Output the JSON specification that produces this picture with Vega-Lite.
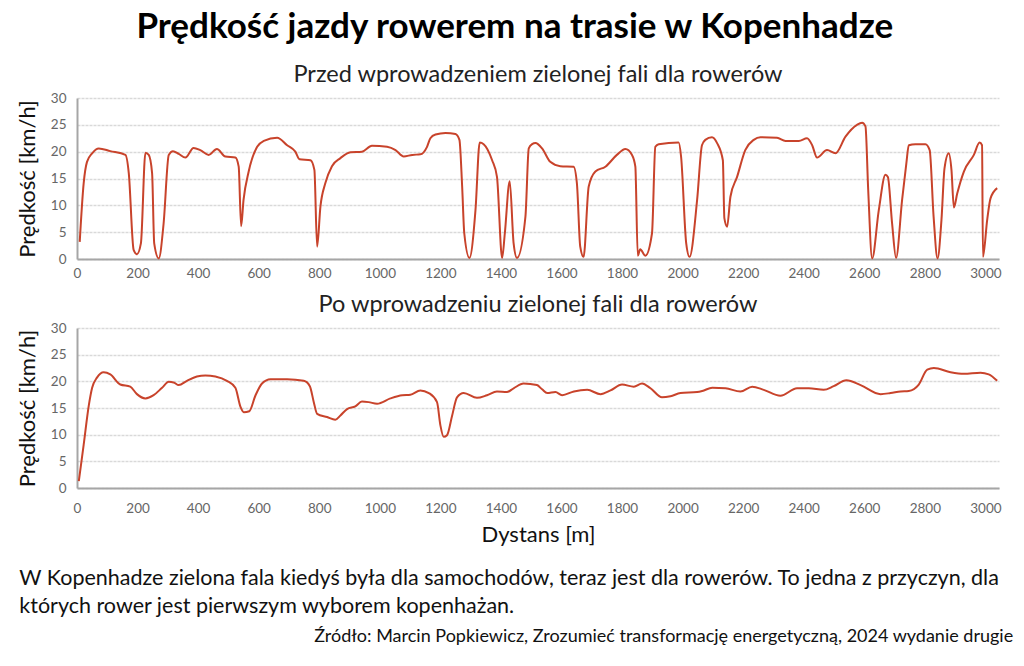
{
  "$schema": "https://vega.github.io/schema/vega-lite/v6.json",
  "background": "white",
  "padding": {"left": 16, "top": 9, "right": 18, "bottom": 8},
  "title": {"text": "Prędkość jazdy rowerem na trasie w Kopenhadze", "font": "Lato", "fontSize": 35, "fontWeight": "bold", "color": "#000000", "anchor": "middle", "offset": 18},
  "datasets": {
    "before": [
      {"d": 9, "v": 3.2}, {"d": 22, "v": 14.1}, {"d": 33, "v": 18.1}, {"d": 50, "v": 19.7}, {"d": 72, "v": 20.6}, {"d": 110, "v": 20.1}, {"d": 160, "v": 19.4}, {"d": 171, "v": 16}, {"d": 187, "v": 1.7}, {"d": 198, "v": 0.9}, {"d": 211, "v": 2.9}, {"d": 226, "v": 19.8}, {"d": 237, "v": 19.4}, {"d": 248, "v": 16}, {"d": 255, "v": 2.9}, {"d": 270, "v": 0.1}, {"d": 286, "v": 6.6}, {"d": 303, "v": 19.4}, {"d": 317, "v": 20.1}, {"d": 336, "v": 19.6}, {"d": 358, "v": 18.9}, {"d": 385, "v": 20.7}, {"d": 407, "v": 20.3}, {"d": 435, "v": 19.4}, {"d": 462, "v": 20.5}, {"d": 490, "v": 19.1}, {"d": 523, "v": 18.9}, {"d": 534, "v": 17.2}, {"d": 542, "v": 6.1}, {"d": 550, "v": 11}, {"d": 567, "v": 16.3}, {"d": 595, "v": 20.9}, {"d": 617, "v": 22}, {"d": 661, "v": 22.6}, {"d": 694, "v": 21.2}, {"d": 721, "v": 20}, {"d": 735, "v": 18.6}, {"d": 771, "v": 18.4}, {"d": 784, "v": 16.6}, {"d": 793, "v": 2.3}, {"d": 804, "v": 9.8}, {"d": 820, "v": 14.1}, {"d": 842, "v": 17.3}, {"d": 870, "v": 18.8}, {"d": 903, "v": 19.9}, {"d": 941, "v": 20}, {"d": 974, "v": 21.1}, {"d": 1024, "v": 20.9}, {"d": 1052, "v": 20.3}, {"d": 1079, "v": 19.1}, {"d": 1107, "v": 19.4}, {"d": 1134, "v": 19.5}, {"d": 1156, "v": 20.9}, {"d": 1167, "v": 22.5}, {"d": 1184, "v": 23.2}, {"d": 1217, "v": 23.5}, {"d": 1250, "v": 23.3}, {"d": 1263, "v": 22.2}, {"d": 1272, "v": 13.5}, {"d": 1279, "v": 4.8}, {"d": 1296, "v": 0.2}, {"d": 1316, "v": 9.1}, {"d": 1330, "v": 21.7}, {"d": 1343, "v": 21.4}, {"d": 1371, "v": 18.4}, {"d": 1387, "v": 15.3}, {"d": 1404, "v": 0.2}, {"d": 1413, "v": 4.8}, {"d": 1429, "v": 14.5}, {"d": 1442, "v": 2.9}, {"d": 1453, "v": 0.2}, {"d": 1481, "v": 7.9}, {"d": 1492, "v": 20.6}, {"d": 1503, "v": 21.4}, {"d": 1514, "v": 21.6}, {"d": 1536, "v": 20.6}, {"d": 1563, "v": 18.1}, {"d": 1596, "v": 17.3}, {"d": 1640, "v": 17.2}, {"d": 1651, "v": 14.1}, {"d": 1662, "v": 2.3}, {"d": 1673, "v": 0.4}, {"d": 1690, "v": 13.5}, {"d": 1712, "v": 16.3}, {"d": 1745, "v": 17.2}, {"d": 1783, "v": 19.4}, {"d": 1811, "v": 20.5}, {"d": 1833, "v": 19.4}, {"d": 1844, "v": 17.2}, {"d": 1852, "v": 0.6}, {"d": 1860, "v": 1.8}, {"d": 1877, "v": 0.6}, {"d": 1899, "v": 4.8}, {"d": 1910, "v": 20.9}, {"d": 1921, "v": 21.4}, {"d": 1987, "v": 21.7}, {"d": 1995, "v": 19.1}, {"d": 2012, "v": 2.9}, {"d": 2023, "v": 0.4}, {"d": 2048, "v": 11}, {"d": 2064, "v": 21.2}, {"d": 2075, "v": 22.2}, {"d": 2097, "v": 22.7}, {"d": 2114, "v": 21.6}, {"d": 2133, "v": 18.4}, {"d": 2138, "v": 7.6}, {"d": 2147, "v": 6}, {"d": 2158, "v": 11.6}, {"d": 2180, "v": 15.3}, {"d": 2207, "v": 20.3}, {"d": 2235, "v": 22.2}, {"d": 2257, "v": 22.7}, {"d": 2312, "v": 22.6}, {"d": 2340, "v": 22}, {"d": 2384, "v": 22}, {"d": 2411, "v": 22.5}, {"d": 2428, "v": 21.2}, {"d": 2444, "v": 18.9}, {"d": 2477, "v": 20.3}, {"d": 2505, "v": 19.7}, {"d": 2538, "v": 22.8}, {"d": 2576, "v": 25}, {"d": 2593, "v": 25.4}, {"d": 2604, "v": 24.7}, {"d": 2613, "v": 12.9}, {"d": 2626, "v": 0.1}, {"d": 2648, "v": 9.1}, {"d": 2670, "v": 15.7}, {"d": 2678, "v": 15.3}, {"d": 2692, "v": 6.6}, {"d": 2705, "v": 0.2}, {"d": 2725, "v": 11}, {"d": 2739, "v": 17.8}, {"d": 2747, "v": 21.2}, {"d": 2769, "v": 21.4}, {"d": 2802, "v": 21.4}, {"d": 2816, "v": 20.3}, {"d": 2829, "v": 7.9}, {"d": 2842, "v": 0.1}, {"d": 2855, "v": 7.3}, {"d": 2865, "v": 16.9}, {"d": 2879, "v": 19.7}, {"d": 2888, "v": 16.6}, {"d": 2896, "v": 9.6}, {"d": 2907, "v": 12.2}, {"d": 2929, "v": 16.3}, {"d": 2962, "v": 19.4}, {"d": 2981, "v": 21.7}, {"d": 2989, "v": 21.2}, {"d": 2992, "v": 0.4}, {"d": 3006, "v": 7.3}, {"d": 3017, "v": 11.3}, {"d": 3039, "v": 13.2}
    ],
    "after": [
      {"d": 6, "v": 1.3}, {"d": 22, "v": 8.1}, {"d": 39, "v": 15.5}, {"d": 50, "v": 18.8}, {"d": 66, "v": 20.7}, {"d": 88, "v": 21.7}, {"d": 110, "v": 21.3}, {"d": 143, "v": 19.4}, {"d": 176, "v": 19}, {"d": 198, "v": 17.6}, {"d": 226, "v": 16.8}, {"d": 253, "v": 17.4}, {"d": 281, "v": 18.8}, {"d": 303, "v": 19.9}, {"d": 319, "v": 19.8}, {"d": 336, "v": 19.3}, {"d": 363, "v": 20.1}, {"d": 396, "v": 20.9}, {"d": 424, "v": 21.1}, {"d": 457, "v": 20.9}, {"d": 495, "v": 20.1}, {"d": 523, "v": 18.8}, {"d": 540, "v": 15.2}, {"d": 551, "v": 14.2}, {"d": 569, "v": 14.4}, {"d": 589, "v": 17.3}, {"d": 611, "v": 19.6}, {"d": 639, "v": 20.4}, {"d": 694, "v": 20.4}, {"d": 749, "v": 20.1}, {"d": 769, "v": 19.1}, {"d": 782, "v": 16.1}, {"d": 793, "v": 13.9}, {"d": 826, "v": 13.3}, {"d": 853, "v": 12.8}, {"d": 870, "v": 13.6}, {"d": 892, "v": 14.8}, {"d": 919, "v": 15.3}, {"d": 941, "v": 16.2}, {"d": 963, "v": 16.1}, {"d": 991, "v": 15.8}, {"d": 1035, "v": 16.8}, {"d": 1074, "v": 17.4}, {"d": 1101, "v": 17.5}, {"d": 1134, "v": 18.3}, {"d": 1162, "v": 17.8}, {"d": 1189, "v": 16.1}, {"d": 1200, "v": 11.8}, {"d": 1211, "v": 9.6}, {"d": 1222, "v": 9.9}, {"d": 1239, "v": 13.6}, {"d": 1255, "v": 17}, {"d": 1277, "v": 17.8}, {"d": 1321, "v": 16.9}, {"d": 1354, "v": 17.4}, {"d": 1387, "v": 18.1}, {"d": 1420, "v": 18}, {"d": 1442, "v": 18.7}, {"d": 1475, "v": 19.6}, {"d": 1519, "v": 19.3}, {"d": 1536, "v": 18.5}, {"d": 1553, "v": 17.8}, {"d": 1580, "v": 18}, {"d": 1602, "v": 17.4}, {"d": 1641, "v": 18.1}, {"d": 1685, "v": 18.4}, {"d": 1729, "v": 17.6}, {"d": 1762, "v": 18.3}, {"d": 1800, "v": 19.4}, {"d": 1839, "v": 19}, {"d": 1866, "v": 19.6}, {"d": 1894, "v": 18.7}, {"d": 1932, "v": 17}, {"d": 1960, "v": 17.2}, {"d": 1993, "v": 17.8}, {"d": 2048, "v": 18}, {"d": 2065, "v": 18.2}, {"d": 2098, "v": 18.8}, {"d": 2142, "v": 18.7}, {"d": 2191, "v": 18.1}, {"d": 2230, "v": 19}, {"d": 2268, "v": 18.4}, {"d": 2323, "v": 17.3}, {"d": 2378, "v": 18.7}, {"d": 2417, "v": 18.7}, {"d": 2466, "v": 18.4}, {"d": 2499, "v": 19.1}, {"d": 2541, "v": 20.2}, {"d": 2588, "v": 19.3}, {"d": 2654, "v": 17.6}, {"d": 2687, "v": 17.8}, {"d": 2720, "v": 18.1}, {"d": 2747, "v": 18.2}, {"d": 2780, "v": 19.4}, {"d": 2808, "v": 22.2}, {"d": 2830, "v": 22.5}, {"d": 2885, "v": 21.7}, {"d": 2929, "v": 21.4}, {"d": 2984, "v": 21.6}, {"d": 3011, "v": 21.3}, {"d": 3039, "v": 20.1}
    ]
  },
  "vconcat": [
    {
      "title": {"text": "Źródło: Marcin Popkiewicz, Zrozumieć transformację energetyczną, 2024 wydanie drugie", "orient": "bottom", "anchor": "end", "font": "Lato", "fontSize": 18, "fontWeight": "normal", "color": "#111111", "offset": 11, "dx": 12},
      "vconcat": [
        {
          "title": {"text": ["W Kopenhadze zielona fala kiedyś była dla samochodów, teraz jest dla rowerów. To jedna z przyczyn, dla", "których rower jest pierwszym wyborem kopenhażan."], "orient": "bottom", "anchor": "start", "font": "Lato", "fontSize": 21.5, "fontWeight": "normal", "color": "#111111", "lineHeight": 28, "offset": 22, "dx": 3},
          "spacing": 12,
          "vconcat": [
            {
              "width": 922,
              "height": 161,
              "title": {"text": "Przed wprowadzeniem zielonej fali dla rowerów", "font": "Lato", "fontSize": 23.5, "fontWeight": "normal", "color": "#222222", "anchor": "middle", "offset": 5},
              "data": {"name": "before"},
              "mark": {"type": "line", "color": "#c8432b", "strokeWidth": 2, "interpolate": "monotone"},
              "encoding": {
                "x": {"field": "d", "type": "quantitative", "scale": {"domain": [0, 3045], "nice": false}, "axis": {"title": null, "format": "d", "values": [0, 200, 400, 600, 800, 1000, 1200, 1400, 1600, 1800, 2000, 2200, 2400, 2600, 2800, 3000], "grid": false, "labelPadding": 7}},
                "y": {"field": "v", "type": "quantitative", "scale": {"domain": [0, 30], "nice": false}, "axis": {"title": "Prędkość [km/h]", "values": [0, 5, 10, 15, 20, 25, 30]}}
              }
            },
            {
              "width": 922,
              "height": 160,
              "title": {"text": "Po wprowadzeniu zielonej fali dla rowerów", "font": "Lato", "fontSize": 23.5, "fontWeight": "normal", "color": "#222222", "anchor": "middle", "offset": 5},
              "data": {"name": "after"},
              "mark": {"type": "line", "color": "#c8432b", "strokeWidth": 2, "interpolate": "monotone"},
              "encoding": {
                "x": {"field": "d", "type": "quantitative", "scale": {"domain": [0, 3045], "nice": false}, "axis": {"title": "Dystans [m]", "format": "d", "values": [0, 200, 400, 600, 800, 1000, 1200, 1400, 1600, 1800, 2000, 2200, 2400, 2600, 2800, 3000], "grid": false, "labelPadding": 13, "titlePadding": 10}},
                "y": {"field": "v", "type": "quantitative", "scale": {"domain": [0, 30], "nice": false}, "axis": {"title": "Prędkość [km/h]", "values": [0, 5, 10, 15, 20, 25, 30]}}
              }
            }
          ]
        }
      ]
    }
  ],
  "config": {
    "view": {"stroke": null},
    "axis": {
      "labelFont": "Lato",
      "labelFontSize": 13.5,
      "labelColor": "#666666",
      "titleFont": "Lato",
      "titleFontSize": 22,
      "titleFontWeight": "normal",
      "titleColor": "#111111",
      "ticks": false,
      "domainColor": "#a6a6a6",
      "domainWidth": 2,
      "gridColor": "#d9d9d9",
      "gridDash": [3, 1],
      "gridWidth": 1.5
    },
    "axisY": {"labelPadding": 11, "titlePadding": 11},
    "axisX": {"labelFlush": false}
  }
}
